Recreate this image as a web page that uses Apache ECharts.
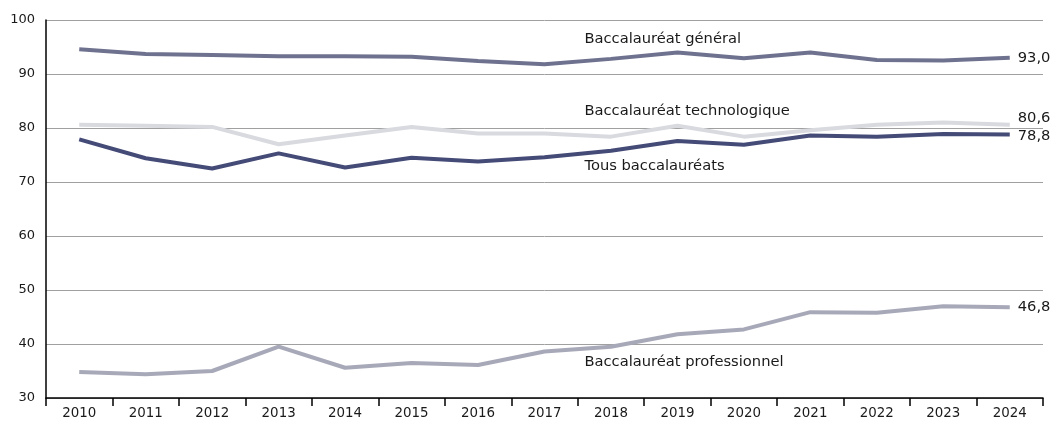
<!DOCTYPE html>
<html>
<head>
<meta charset="utf-8">
<script src="https://cdn.jsdelivr.net/npm/echarts@6/dist/echarts.min.js"></script>
<style>
  html, body { margin: 0; padding: 0; background: #fff; }
  #chart { width: 1051px; height: 422px; }
</style>
</head>
<body>
<div id="chart"></div>
<script>
const years = ['2010', '2011', '2012', '2013', '2014', '2015', '2016', '2017', '2018', '2019', '2020', '2021', '2022', '2023', '2024'];
const general = [94.6, 93.7, 93.5, 93.3, 93.3, 93.2, 92.4, 91.8, 92.8, 94.0, 92.9, 94.0, 92.6, 92.5, 93.0];
const techno = [80.6, 80.4, 80.2, 77.0, 78.6, 80.2, 79.0, 79.0, 78.4, 80.4, 78.4, 79.6, 80.6, 81.0, 80.6];
const tous = [77.9, 74.4, 72.5, 75.3, 72.7, 74.5, 73.8, 74.6, 75.8, 77.6, 76.9, 78.6, 78.4, 78.9, 78.8];
const pro = [34.8, 34.4, 35.0, 39.5, 35.6, 36.5, 36.1, 38.6, 39.5, 41.8, 42.7, 45.9, 45.8, 47.0, 46.8];
const yTicks = [30, 40, 50, 60, 70, 80, 90, 100];

const chart = echarts.init(document.getElementById('chart'));
const font = '"DejaVu Sans", "Noto Sans", sans-serif';

// series label anchored on the 2019 point, then shifted
function nameLabel(name, values, dy) {
  return {
    symbol: 'circle',
    symbolSize: 0,
    silent: true,
    itemStyle: { color: 'transparent' },
    label: {
      show: true,
      position: 'inside',
      align: 'left',
      verticalAlign: 'middle',
      offset: [-93, dy],
      formatter: name,
      color: '#1a1a1a',
      fontSize: 14.7,
      fontFamily: font
    },
    data: [{ coord: ['2019', values[9]] }]
  };
}

function makeSeries(name, values, color, dy, endDy) {
  return {
    name: name,
    type: 'line',
    data: values,
    showSymbol: false,
    symbol: 'none',
    lineStyle: { color: color, width: 4 },
    itemStyle: { color: color },
    endLabel: {
      show: true,
      distance: 8,
      offset: [0, endDy],
      color: '#1a1a1a',
      fontSize: 14.7,
      fontFamily: font,
      formatter: p => p.value.toFixed(1).replace('.', ',')
    },
    markPoint: nameLabel(name, values, dy),
    animation: false
  };
}

const option = {
  title: {
    text: '(en %)',
    left: 218,
    top: -23,
    textStyle: { fontSize: 18, fontWeight: 'bold', color: '#1a1a1a', fontFamily: font }
  },
  grid: { left: 46, right: 8, top: 20, bottom: 24 },
  xAxis: {
    type: 'category',
    data: years,
    axisLine: { lineStyle: { color: '#000', width: 1.5 } },
    axisTick: { show: true, length: 8, lineStyle: { color: '#000', width: 1.5 } },
    axisLabel: { color: '#1a1a1a', fontSize: 13.4, fontFamily: font, margin: 9 }
  },
  yAxis: {
    type: 'value',
    min: yTicks[0],
    max: yTicks[yTicks.length - 1],
    interval: 10,
    axisLine: { show: true, lineStyle: { color: '#000', width: 1.5 } },
    axisTick: { show: false },
    axisLabel: { color: '#1a1a1a', fontSize: 13, fontFamily: font, margin: 11 },
    splitLine: { lineStyle: { color: '#a0a0a0', width: 1 } }
  },
  series: [
    makeSeries('Baccalauréat professionnel', pro, '#a7a9b9', 28, 0),
    makeSeries('Baccalauréat technologique', techno, '#d8dadf', -15, -7),
    makeSeries('Tous baccalauréats', tous, '#454b77', 25, 2),
    makeSeries('Baccalauréat général', general, '#6f728f', -13, 0)
  ]
};

chart.setOption(option);
window.addEventListener('resize', () => chart.resize());
</script>
</body>
</html>
